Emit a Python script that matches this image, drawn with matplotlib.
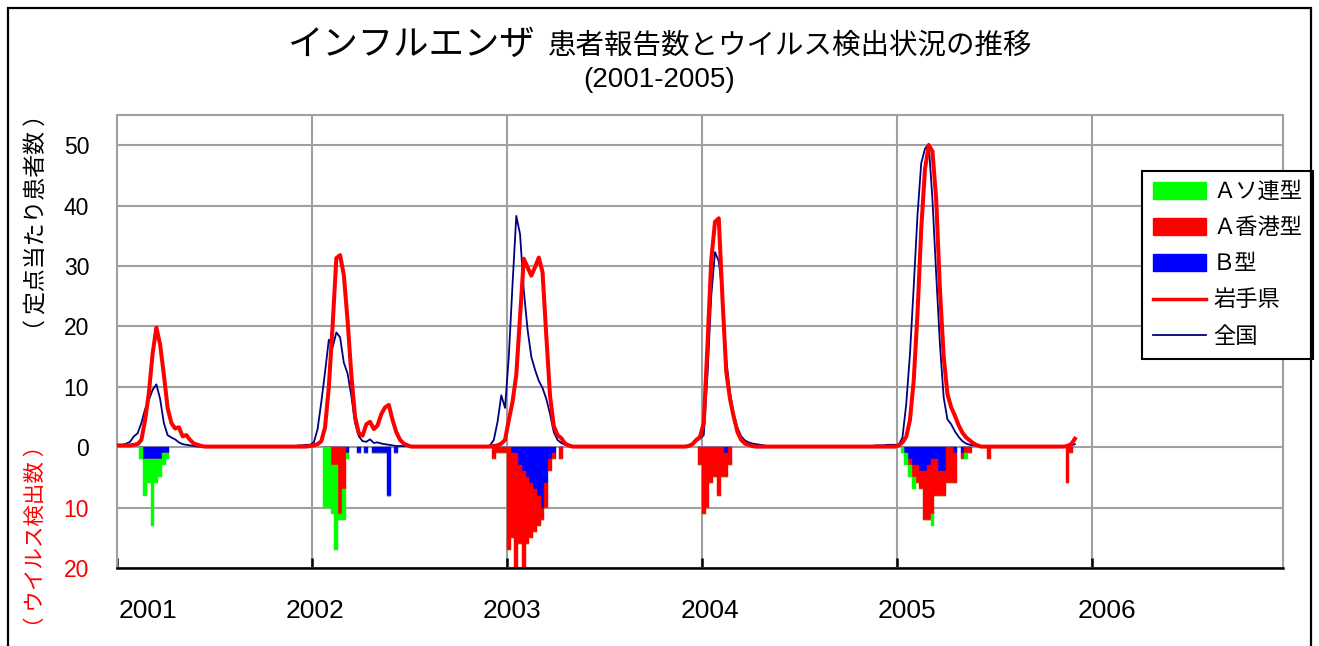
import numpy as np
import matplotlib
matplotlib.use("Agg")
import matplotlib.pyplot as plt
from matplotlib.patches import Rectangle, Patch
from matplotlib.lines import Line2D

plt.rcParams['font.family'] = ['Liberation Sans', 'Noto Sans CJK JP']

# weekly reports per sentinel (week 1..52 for each year, 2005 up to week 48)
iwate_2001 = [0.3, 0.3, 0.3, 0.3, 0.4, 0.5, 1.2, 4.5, 9.0, 15.5, 19.8, 17.0, 12.0,
              6.5, 4.0, 3.1, 3.3, 1.8, 2.0, 1.2, 0.6, 0.4, 0.2, 0.1, 0.1, 0.1,
              0.1, 0.1, 0.1, 0.1, 0.1, 0.1, 0.1, 0.1, 0.1, 0.1, 0.1, 0.1, 0.1,
              0.1, 0.1, 0.1, 0.1, 0.1, 0.1, 0.1, 0.1, 0.1, 0.1, 0.1, 0.1, 0.2]
iwate_2002 = [0.3, 0.5, 1.0, 3.3, 10.0, 20.0, 31.3, 31.8, 28.5, 21.0, 12.0, 5.0, 2.3,
              1.9, 3.8, 4.2, 3.0, 3.6, 5.5, 6.6, 7.0, 4.5, 2.5, 1.2, 0.6, 0.3,
              0.1, 0.1, 0.1, 0.1, 0.1, 0.1, 0.1, 0.1, 0.1, 0.1, 0.1, 0.1, 0.1,
              0.1, 0.1, 0.1, 0.1, 0.1, 0.1, 0.1, 0.1, 0.1, 0.2, 0.3, 0.6, 1.2]
iwate_2003 = [4.5, 7.5, 12.0, 21.5, 31.2, 29.8, 28.4, 29.8, 31.4, 29.0, 18.5, 8.5, 3.5,
              2.0, 1.5, 0.6, 0.3, 0.1, 0.1, 0.1, 0.1, 0.1, 0.1, 0.1, 0.1, 0.1,
              0.1, 0.1, 0.1, 0.1, 0.1, 0.1, 0.1, 0.1, 0.1, 0.1, 0.1, 0.1, 0.1,
              0.1, 0.1, 0.1, 0.1, 0.1, 0.1, 0.1, 0.1, 0.1, 0.2, 0.5, 1.2, 1.7]
iwate_2004 = [4.0, 17.0, 31.0, 37.3, 37.9, 24.5, 12.5, 8.0, 5.0, 2.5, 1.2, 0.6, 0.4,
              0.2, 0.1, 0.1, 0.1, 0.1, 0.1, 0.1, 0.1, 0.1, 0.1, 0.1, 0.1, 0.1,
              0.1, 0.1, 0.1, 0.1, 0.1, 0.1, 0.1, 0.1, 0.1, 0.1, 0.1, 0.1, 0.1,
              0.1, 0.1, 0.1, 0.1, 0.1, 0.1, 0.1, 0.1, 0.1, 0.1, 0.1, 0.1, 0.1]
iwate_2005 = [0.3, 0.8, 1.7, 4.5, 11.0, 22.0, 36.0, 46.0, 50.0, 49.0, 41.0, 26.0, 15.0,
              8.8, 6.6, 5.2, 3.6, 2.4, 1.6, 1.1, 0.6, 0.3, 0.1, 0.1, 0.1, 0.1,
              0.1, 0.1, 0.1, 0.1, 0.1, 0.1, 0.1, 0.1, 0.1, 0.1, 0.1, 0.1, 0.1,
              0.1, 0.1, 0.1, 0.1, 0.1, 0.1, 0.2, 0.5, 1.4]

national_2001 = [0.3, 0.4, 0.6, 0.9, 1.8, 2.3, 4.0, 6.3, 7.8, 9.5, 10.4, 8.0, 4.0,
                 2.0, 1.6, 1.3, 0.8, 0.5, 0.4, 0.3, 0.2, 0.1, 0.1, 0.1, 0.1, 0.1,
                 0.1, 0.1, 0.1, 0.1, 0.1, 0.1, 0.1, 0.1, 0.1, 0.1, 0.1, 0.1, 0.1,
                 0.1, 0.1, 0.1, 0.1, 0.1, 0.1, 0.1, 0.2, 0.2, 0.3, 0.3, 0.4, 0.4]
national_2002 = [0.8, 3.0, 7.5, 12.5, 17.8, 16.5, 19.0, 18.2, 14.0, 12.2, 8.5, 4.0, 1.8,
                 1.0, 0.9, 1.3, 0.7, 0.8, 0.6, 0.5, 0.4, 0.3, 0.2, 0.2, 0.2, 0.2,
                 0.1, 0.1, 0.1, 0.1, 0.1, 0.1, 0.1, 0.1, 0.1, 0.1, 0.1, 0.1, 0.1,
                 0.1, 0.1, 0.1, 0.1, 0.1, 0.1, 0.1, 0.1, 0.3, 1.2, 4.2, 8.6, 6.5]
national_2003 = [15.0, 27.0, 38.3, 35.3, 26.0, 19.5, 15.0, 12.8, 11.0, 9.8, 8.0, 5.5, 2.5,
                 1.2, 0.7, 0.4, 0.2, 0.2, 0.1, 0.1, 0.1, 0.1, 0.1, 0.1, 0.1, 0.1,
                 0.1, 0.1, 0.1, 0.1, 0.1, 0.1, 0.1, 0.1, 0.1, 0.1, 0.1, 0.1, 0.1,
                 0.1, 0.1, 0.1, 0.1, 0.1, 0.1, 0.1, 0.1, 0.2, 0.3, 0.6, 1.0, 1.4]
national_2004 = [2.0, 12.0, 25.0, 32.3, 30.8, 25.5, 14.5, 9.0, 5.5, 3.2, 1.8, 1.1, 0.8,
                 0.6, 0.5, 0.4, 0.3, 0.2, 0.1, 0.1, 0.1, 0.1, 0.1, 0.1, 0.1, 0.1,
                 0.1, 0.1, 0.1, 0.1, 0.1, 0.1, 0.1, 0.1, 0.1, 0.1, 0.1, 0.1, 0.1,
                 0.1, 0.1, 0.1, 0.1, 0.2, 0.2, 0.2, 0.3, 0.3, 0.3, 0.4, 0.4, 0.4]
national_2005 = [0.4, 1.6, 7.1, 15.4, 26.5, 38.3, 47.0, 49.4, 50.2, 41.0, 28.6, 17.0, 8.2,
                 4.6, 3.8, 2.6, 1.7, 1.0, 0.6, 0.4, 0.3, 0.2, 0.2, 0.2, 0.1, 0.1,
                 0.1, 0.1, 0.1, 0.1, 0.1, 0.1, 0.1, 0.1, 0.1, 0.1, 0.1, 0.1, 0.1,
                 0.1, 0.1, 0.1, 0.1, 0.1, 0.1, 0.1, 0.3, 0.5]

# virus detections (year, week, counts per type)
virus_year = [2001] * 8 + [2002] * 19 + [2003] * 15 + [2004] * 8 + [2005] * 21
virus_week = [7, 8, 9, 10, 11, 12, 13, 14,
              4, 5, 6, 7, 8, 9, 10, 13, 15, 17, 18, 19, 20, 21, 23, 49, 50, 51, 52,
              1, 2, 3, 4, 5, 6, 7, 8, 9, 10, 11, 12, 13, 15, 52,
              1, 2, 3, 4, 5, 6, 7, 8,
              2, 3, 4, 5, 6, 7, 8, 9, 10, 11, 12, 13, 14, 15, 16, 18, 19, 20, 25, 46, 47]
virus_b = [0, 2, 2, 2, 2, 2, 1, 1,
           0, 0, 0, 0, 0, 0, 1, 1, 1, 1, 1, 1, 1, 8, 1, 0, 0, 0, 0,
           0, 1, 1, 3, 4, 5, 6, 7, 8, 10, 6, 2, 1, 0, 0,
           0, 0, 0, 0, 0, 0, 1, 0,
           0, 1, 2, 3, 3, 4, 4, 3, 2, 2, 4, 4, 0, 0, 1, 1, 0, 0, 0, 0, 0]
virus_h3 = [0, 0, 0, 0, 0, 0, 0, 0,
            0, 0, 3, 3, 11, 7, 0, 0, 0, 0, 0, 0, 0, 0, 0, 2, 1, 1, 1,
            17, 14, 20, 13, 18, 11, 9, 7, 5, 2, 4, 2, 1, 2, 3,
            11, 10, 6, 5, 8, 5, 4, 3,
            0, 0, 1, 2, 3, 3, 8, 9, 9, 6, 4, 4, 6, 6, 5, 1, 1, 1, 2, 6, 1]
virus_h1 = [2, 6, 4, 11, 4, 3, 2, 1,
            10, 10, 8, 14, 1, 5, 1, 0, 0, 0, 0, 0, 0, 0, 0, 0, 0, 0, 0,
            0, 0, 0, 0, 0, 0, 0, 0, 0, 0, 0, 0, 0, 0, 0,
            0, 0, 0, 0, 0, 0, 0, 0,
            1, 2, 2, 2, 0, 0, 0, 0, 2, 0, 0, 0, 0, 0, 0, 0, 1, 0, 0, 0, 0]

year_labels = ['2001', '2002', '2003', '2004', '2005', '2006']
y_ticks = [-20, -10, 0, 10, 20, 30, 40, 50]
y_tick_labels = ['20', '10', '0', '10', '20', '30', '40', '50']

iwate = np.array(iwate_2001 + iwate_2002 + iwate_2003 + iwate_2004 + iwate_2005)
national = np.array(national_2001 + national_2002 + national_2003 + national_2004 + national_2005)
x_line = np.arange(len(iwate)) + 0.5

vx = (np.array(virus_year) - 2001) * 52 + np.array(virus_week) - 0.5
vb = np.array(virus_b)
vh3 = np.array(virus_h3)
vh1 = np.array(virus_h1)

W, H = 1319, 646
fig = plt.figure(figsize=(W / 100, H / 100), dpi=100)
ax = fig.add_axes([117 / W, 1 - 568 / H, (1283 - 117) / W, (568 - 115) / H])

GREEN, RED, BLUE, NAVY = '#00ff00', '#ff0000', '#0000ff', '#000080'
GRID = '#a0a0a0'
CJK = ['Noto Sans CJK JP', 'DejaVu Sans']

# stacked detections drawn downwards: B, A/H3, A/H1
ax.bar(vx, -vb, width=1.0, color=BLUE, edgecolor=BLUE, linewidth=0.3, zorder=2)
ax.bar(vx, -vh3, bottom=-vb, width=1.0, color=RED, edgecolor=RED, linewidth=0.3, zorder=2)
ax.bar(vx, -vh1, bottom=-(vb + vh3), width=1.0, color=GREEN, edgecolor=GREEN, linewidth=0.3, zorder=2)

ax.plot(x_line, national, color=NAVY, lw=1.3, zorder=3)
ax.plot(x_line, iwate, color=RED, lw=2.9, zorder=4, solid_joinstyle='round')

ax.set_xlim(0, 311)
ax.set_ylim(-20, 55)
ax.set_xticks(np.arange(len(year_labels)) * 52)
ax.set_xticklabels([])
ax.set_yticks(y_ticks)
ax.set_yticklabels(y_tick_labels, fontsize=16.5)
for lab, v in zip(ax.get_yticklabels(), y_ticks):
    lab.set_color(RED if v < 0 else 'black')
ax.tick_params(axis='y', length=0, pad=20)
ax.tick_params(axis='x', direction='in', length=7, width=1.8, color='black')
ax.grid(True, color=GRID, lw=1.5, zorder=0)
ax.set_axisbelow(True)
for s in ['left', 'top', 'right']:
    ax.spines[s].set_color(GRID)
    ax.spines[s].set_linewidth(1.5)
ax.spines['bottom'].set_color('black')
ax.spines['bottom'].set_linewidth(1.8)
ax.spines['bottom'].set_zorder(5)

# year labels below the axis
nudge = [8.2, 0.9, 1.4, 2.2, 2.7, 4.0]
for i, lab in enumerate(year_labels):
    ax.text(i * 52 + nudge[i], -0.095, lab, transform=ax.get_xaxis_transform(),
            ha='center', va='center', fontsize=19)

# titles
fig.text(536 / W, 1 - 45 / H, 'インフルエンザ', ha='right', va='center', fontsize=25.5, family=CJK)
fig.text(548 / W, 1 - 46 / H, '患者報告数とウイルス検出状況の推移', ha='left', va='center',
         fontsize=20.5, family=CJK)
fig.text(659 / W, 1 - 80 / H, '(2001-2005)', ha='center', va='center', fontsize=20)

fig.text(37 / W, 1 - 222 / H, '（ 定点当たり患者数 ）', rotation=90, ha='center', va='center',
         fontsize=16.5, family=CJK)
fig.text(36 / W, 1 - 536 / H, '（ ウイルス検出数 ）', rotation=90, ha='center', va='center',
         fontsize=15.5, color=RED, family=CJK)

handles = [Patch(color=GREEN), Patch(color=RED), Patch(color=BLUE),
           Line2D([], [], color=RED, lw=2.5), Line2D([], [], color=NAVY, lw=1.3)]
labels = ['Ａソ連型', 'Ａ香港型', 'Ｂ型', '岩手県', '全国']
leg = ax.legend(handles, labels, loc='upper left', bbox_to_anchor=(1142 / W, 1 - 171 / H),
                bbox_transform=fig.transFigure, borderaxespad=0, fontsize=16,
                handlelength=2.4, handleheight=0.75, handletextpad=0.3,
                labelspacing=0.68, borderpad=0.5, fancybox=False, framealpha=1)
leg.get_frame().set_edgecolor('black')
leg.get_frame().set_linewidth(1.5)
leg.set_zorder(10)

# outer frame of the picture
fig.patches.append(Rectangle((8 / W, -0.1), (1311 - 8) / W, 1.1 - 8 / H,
                             transform=fig.transFigure, fill=False, edgecolor='black', lw=1.6))

fig.savefig('out.png', dpi=100)
